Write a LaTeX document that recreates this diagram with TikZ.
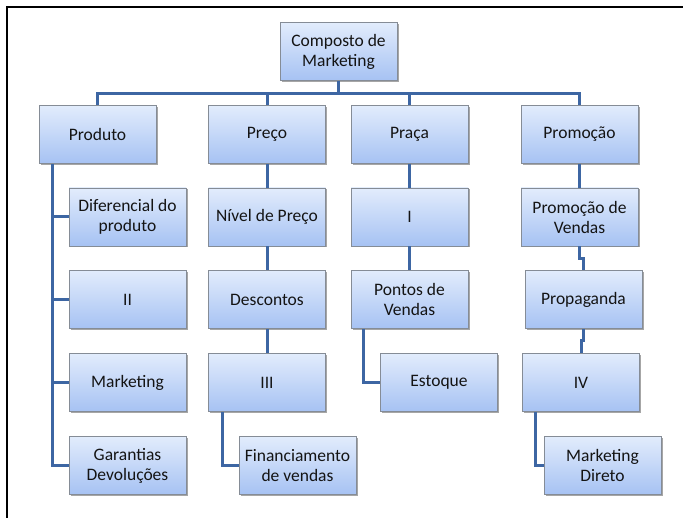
\documentclass[tikz,border=0pt]{standalone}
\usepackage{fontspec}
\setmainfont{Carlito}
\usetikzlibrary{shadows}
\definecolor{linkc}{HTML}{3D66A3}
\definecolor{boxtop}{HTML}{E2ECFC}
\definecolor{boxbot}{HTML}{A6C2F3}
\definecolor{boxborder}{HTML}{858C96}
\definecolor{txt}{HTML}{141414}
\tikzset{
  box/.style={draw=boxborder, line width=0.8pt, top color=boxtop, bottom color=boxbot,
    minimum width=117pt, minimum height=58pt, inner sep=0pt, align=center,
    font=\fontsize{17.5}{20}\selectfont, text=txt,
    drop shadow={shadow xshift=1.5pt, shadow yshift=-1.5pt, fill=black, opacity=0.35}},
  link/.style={draw=linkc, line width=3pt}
}
\begin{document}
\begin{tikzpicture}[x=1pt,y=-1pt]
\useasboundingbox (0,0) rectangle (683,518);
\draw[line width=2pt] (6.5,518) -- (6.5,7) -- (683,7);
% nodes
\node[box] (top) at (338.5,51.5) {Composto de\\Marketing};
\node[box] (produto) at (97.5,134.5) {Produto};
\node[box] (preco) at (267,134.5) {Preço};
\node[box] (praca) at (409.5,134.5) {Praça};
\node[box] (promocao) at (579.5,134.5) {Promoção};
\node[box] (dif) at (127.5,217) {Diferencial do\\produto};
\node[box] (ii) at (127.5,299.5) {II};
\node[box] (mkt) at (127.5,382.5) {Marketing};
\node[box] (gar) at (127.5,465.5) {Garantias\\Devoluções};
\node[box] (nivel) at (267,217) {Nível de Preço};
\node[box] (desc) at (267,299.5) {Descontos};
\node[box] (iii) at (267,382.5) {III};
\node[box] (fin) at (297.5,465.5) {Financiamento\\de vendas};
\node[box] (i) at (409.5,217) {I};
\node[box] (pontos) at (409.5,299.5) {Pontos de\\Vendas};
\node[box] (estoque) at (439,382.5) {Estoque};
\node[box] (pvendas) at (579.5,217) {Promoção de\\Vendas};
\node[box] (propag) at (583.5,299.5) {Propaganda};
\node[box] (iv) at (581,382.5) {IV};
\node[box] (mdir) at (602.5,465.5) {Marketing\\Direto};
% connectors
\coordinate (bus) at (338.5,94);
\draw[link] (top.south) -- (bus);
\draw[link] (produto.north) |- (bus) -| (promocao.north);
\draw[link] (preco.north) -- (preco.north |- bus);
\draw[link] (praca.north) -- (praca.north |- bus);
% Produto
\coordinate (pdx) at ([xshift=14pt]produto.south west);
\draw[link] (pdx) |- (gar.west);
\draw[link] (pdx |- dif.west) -- (dif.west);
\draw[link] (pdx |- ii.west) -- (ii.west);
\draw[link] (pdx |- mkt.west) -- (mkt.west);
% Preco
\draw[link] (preco.south) -- (nivel.north);
\draw[link] (nivel.south) -- (desc.north);
\draw[link] (desc.south) -- (iii.north);
\coordinate (fdx) at ([xshift=14pt]iii.south west);
\draw[link] (fdx) |- (fin.west);
% Praca
\draw[link] (praca.south) -- (i.north);
\draw[link] (i.south) -- (pontos.north);
\coordinate (edx) at ([xshift=13pt]pontos.south west);
\draw[link] (edx) |- (estoque.west);
% Promocao
\draw[link] (promocao.south) -- (pvendas.north);
\draw[link] (pvendas.south) -- ++(0,12) -| (propag.north);
\draw[link] (propag.south) -- ++(0,12) -| (iv.north);
\coordinate (mdx) at ([xshift=13pt]iv.south west);
\draw[link] (mdx) |- (mdir.west);
\end{tikzpicture}
\end{document}
